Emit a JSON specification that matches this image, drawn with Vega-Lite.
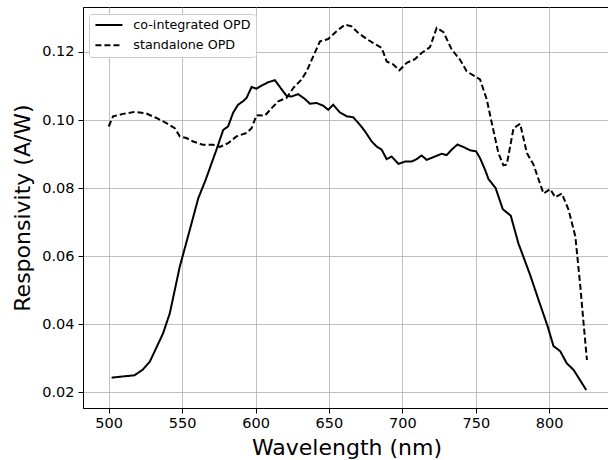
{
  "$schema": "https://vega.github.io/schema/vega-lite/v6.json",
  "width": 527,
  "height": 401,
  "autosize": {"type": "none"},
  "padding": {"left": 83, "top": 7, "right": 0, "bottom": 52},
  "background": "white",
  "config": {
    "font": "DejaVu Sans",
    "view": {"stroke": "#000000", "strokeWidth": 1},
    "axis": {
      "labelFont": "DejaVu Sans",
      "labelFontSize": 14.5,
      "labelColor": "#000000",
      "tickColor": "#000000",
      "tickSize": 5,
      "domainColor": "#000000",
      "gridColor": "#b0b0b0",
      "gridWidth": 0.8,
      "titleFont": "DejaVu Sans",
      "titleFontSize": 22,
      "titleFontWeight": "normal",
      "titleColor": "#000000"
    },
    "legend": {
      "labelFont": "DejaVu Sans",
      "labelFontSize": 12.7,
      "labelColor": "#000000"
    }
  },
  "data": {
    "values": [
      {"series": "co-integrated OPD", "wl": 502, "r": 0.0243},
      {"series": "co-integrated OPD", "wl": 508, "r": 0.0246},
      {"series": "co-integrated OPD", "wl": 517.5, "r": 0.0250},
      {"series": "co-integrated OPD", "wl": 523, "r": 0.0266},
      {"series": "co-integrated OPD", "wl": 528, "r": 0.0290},
      {"series": "co-integrated OPD", "wl": 537, "r": 0.0373},
      {"series": "co-integrated OPD", "wl": 541.6, "r": 0.0432},
      {"series": "co-integrated OPD", "wl": 548.4, "r": 0.0569},
      {"series": "co-integrated OPD", "wl": 555.2, "r": 0.0677},
      {"series": "co-integrated OPD", "wl": 561, "r": 0.0770},
      {"series": "co-integrated OPD", "wl": 566, "r": 0.0824},
      {"series": "co-integrated OPD", "wl": 573.4, "r": 0.0913},
      {"series": "co-integrated OPD", "wl": 578, "r": 0.0971},
      {"series": "co-integrated OPD", "wl": 581.3, "r": 0.0981},
      {"series": "co-integrated OPD", "wl": 584.7, "r": 0.1021},
      {"series": "co-integrated OPD", "wl": 588.1, "r": 0.1045},
      {"series": "co-integrated OPD", "wl": 591.5, "r": 0.1055},
      {"series": "co-integrated OPD", "wl": 593.9, "r": 0.1065},
      {"series": "co-integrated OPD", "wl": 597.3, "r": 0.1097},
      {"series": "co-integrated OPD", "wl": 600.7, "r": 0.1092},
      {"series": "co-integrated OPD", "wl": 604.1, "r": 0.1101},
      {"series": "co-integrated OPD", "wl": 608.6, "r": 0.1111},
      {"series": "co-integrated OPD", "wl": 613.2, "r": 0.1117},
      {"series": "co-integrated OPD", "wl": 616.6, "r": 0.1097},
      {"series": "co-integrated OPD", "wl": 621.1, "r": 0.1071},
      {"series": "co-integrated OPD", "wl": 624.5, "r": 0.1069},
      {"series": "co-integrated OPD", "wl": 629, "r": 0.1076},
      {"series": "co-integrated OPD", "wl": 633.6, "r": 0.1062},
      {"series": "co-integrated OPD", "wl": 637, "r": 0.1048},
      {"series": "co-integrated OPD", "wl": 641.6, "r": 0.1050},
      {"series": "co-integrated OPD", "wl": 646.1, "r": 0.1042},
      {"series": "co-integrated OPD", "wl": 649.5, "r": 0.1030},
      {"series": "co-integrated OPD", "wl": 652.9, "r": 0.1045},
      {"series": "co-integrated OPD", "wl": 657.5, "r": 0.1022},
      {"series": "co-integrated OPD", "wl": 662, "r": 0.1011},
      {"series": "co-integrated OPD", "wl": 666.6, "r": 0.1008},
      {"series": "co-integrated OPD", "wl": 671.1, "r": 0.0986},
      {"series": "co-integrated OPD", "wl": 674.5, "r": 0.0967},
      {"series": "co-integrated OPD", "wl": 679.1, "r": 0.0937},
      {"series": "co-integrated OPD", "wl": 682.5, "r": 0.0922},
      {"series": "co-integrated OPD", "wl": 685.9, "r": 0.0913},
      {"series": "co-integrated OPD", "wl": 689.3, "r": 0.0885},
      {"series": "co-integrated OPD", "wl": 692.7, "r": 0.0893},
      {"series": "co-integrated OPD", "wl": 697.3, "r": 0.0871},
      {"series": "co-integrated OPD", "wl": 701.8, "r": 0.0878},
      {"series": "co-integrated OPD", "wl": 706.3, "r": 0.0878},
      {"series": "co-integrated OPD", "wl": 709.7, "r": 0.0885},
      {"series": "co-integrated OPD", "wl": 713.1, "r": 0.0896},
      {"series": "co-integrated OPD", "wl": 716.5, "r": 0.0883},
      {"series": "co-integrated OPD", "wl": 721.1, "r": 0.0891},
      {"series": "co-integrated OPD", "wl": 726.8, "r": 0.0901},
      {"series": "co-integrated OPD", "wl": 730.2, "r": 0.0897},
      {"series": "co-integrated OPD", "wl": 733.6, "r": 0.0913},
      {"series": "co-integrated OPD", "wl": 737.5, "r": 0.0928},
      {"series": "co-integrated OPD", "wl": 741.5, "r": 0.0921},
      {"series": "co-integrated OPD", "wl": 746.1, "r": 0.0911},
      {"series": "co-integrated OPD", "wl": 750.2, "r": 0.0908},
      {"series": "co-integrated OPD", "wl": 752.9, "r": 0.0888},
      {"series": "co-integrated OPD", "wl": 756.3, "r": 0.0854},
      {"series": "co-integrated OPD", "wl": 758.6, "r": 0.0827},
      {"series": "co-integrated OPD", "wl": 763.5, "r": 0.0800},
      {"series": "co-integrated OPD", "wl": 768.4, "r": 0.0738},
      {"series": "co-integrated OPD", "wl": 773.8, "r": 0.0719},
      {"series": "co-integrated OPD", "wl": 779, "r": 0.0638},
      {"series": "co-integrated OPD", "wl": 787, "r": 0.0545},
      {"series": "co-integrated OPD", "wl": 792.7, "r": 0.0472},
      {"series": "co-integrated OPD", "wl": 799, "r": 0.0393},
      {"series": "co-integrated OPD", "wl": 802.9, "r": 0.0336},
      {"series": "co-integrated OPD", "wl": 807.5, "r": 0.0321},
      {"series": "co-integrated OPD", "wl": 812, "r": 0.0285},
      {"series": "co-integrated OPD", "wl": 816.6, "r": 0.0266},
      {"series": "co-integrated OPD", "wl": 825.2, "r": 0.0207},
      {"series": "standalone OPD", "wl": 500, "r": 0.0981},
      {"series": "standalone OPD", "wl": 503, "r": 0.1011},
      {"series": "standalone OPD", "wl": 509.8, "r": 0.1018},
      {"series": "standalone OPD", "wl": 517.7, "r": 0.1024},
      {"series": "standalone OPD", "wl": 525.7, "r": 0.1019},
      {"series": "standalone OPD", "wl": 532.5, "r": 0.1006},
      {"series": "standalone OPD", "wl": 539.3, "r": 0.0991},
      {"series": "standalone OPD", "wl": 545, "r": 0.0976},
      {"series": "standalone OPD", "wl": 548.4, "r": 0.0952},
      {"series": "standalone OPD", "wl": 552.9, "r": 0.0947},
      {"series": "standalone OPD", "wl": 557.5, "r": 0.0937},
      {"series": "standalone OPD", "wl": 564.3, "r": 0.0927},
      {"series": "standalone OPD", "wl": 571.1, "r": 0.0927},
      {"series": "standalone OPD", "wl": 575.7, "r": 0.0921},
      {"series": "standalone OPD", "wl": 581.3, "r": 0.0932},
      {"series": "standalone OPD", "wl": 587, "r": 0.0952},
      {"series": "standalone OPD", "wl": 593.9, "r": 0.0962},
      {"series": "standalone OPD", "wl": 597.3, "r": 0.0976},
      {"series": "standalone OPD", "wl": 600.7, "r": 0.1014},
      {"series": "standalone OPD", "wl": 606.4, "r": 0.1013},
      {"series": "standalone OPD", "wl": 611, "r": 0.1035},
      {"series": "standalone OPD", "wl": 615.5, "r": 0.1055},
      {"series": "standalone OPD", "wl": 621.1, "r": 0.1065},
      {"series": "standalone OPD", "wl": 625.7, "r": 0.1094},
      {"series": "standalone OPD", "wl": 631.3, "r": 0.1119},
      {"series": "standalone OPD", "wl": 634.8, "r": 0.1143},
      {"series": "standalone OPD", "wl": 639.3, "r": 0.1187},
      {"series": "standalone OPD", "wl": 643.9, "r": 0.1231},
      {"series": "standalone OPD", "wl": 649.5, "r": 0.1238},
      {"series": "standalone OPD", "wl": 655.2, "r": 0.1261},
      {"series": "standalone OPD", "wl": 660.9, "r": 0.1280},
      {"series": "standalone OPD", "wl": 665.4, "r": 0.1275},
      {"series": "standalone OPD", "wl": 670, "r": 0.1256},
      {"series": "standalone OPD", "wl": 675.7, "r": 0.1238},
      {"series": "standalone OPD", "wl": 680.2, "r": 0.1226},
      {"series": "standalone OPD", "wl": 685.9, "r": 0.1212},
      {"series": "standalone OPD", "wl": 689.3, "r": 0.1172},
      {"series": "standalone OPD", "wl": 693.9, "r": 0.1163},
      {"series": "standalone OPD", "wl": 698, "r": 0.1146},
      {"series": "standalone OPD", "wl": 703, "r": 0.1168},
      {"series": "standalone OPD", "wl": 708.6, "r": 0.1179},
      {"series": "standalone OPD", "wl": 713.1, "r": 0.1197},
      {"series": "standalone OPD", "wl": 718.8, "r": 0.1214},
      {"series": "standalone OPD", "wl": 723.4, "r": 0.1271},
      {"series": "standalone OPD", "wl": 728, "r": 0.1258},
      {"series": "standalone OPD", "wl": 733.6, "r": 0.1207},
      {"series": "standalone OPD", "wl": 739.3, "r": 0.1177},
      {"series": "standalone OPD", "wl": 743.8, "r": 0.1143},
      {"series": "standalone OPD", "wl": 749.5, "r": 0.1128},
      {"series": "standalone OPD", "wl": 752.9, "r": 0.1119},
      {"series": "standalone OPD", "wl": 757.5, "r": 0.1060},
      {"series": "standalone OPD", "wl": 760.9, "r": 0.0991},
      {"series": "standalone OPD", "wl": 765.4, "r": 0.0903},
      {"series": "standalone OPD", "wl": 768.8, "r": 0.0867},
      {"series": "standalone OPD", "wl": 771.1, "r": 0.0869},
      {"series": "standalone OPD", "wl": 775.7, "r": 0.0976},
      {"series": "standalone OPD", "wl": 780.2, "r": 0.0989},
      {"series": "standalone OPD", "wl": 784.8, "r": 0.0903},
      {"series": "standalone OPD", "wl": 789.3, "r": 0.0869},
      {"series": "standalone OPD", "wl": 796.1, "r": 0.0784},
      {"series": "standalone OPD", "wl": 800.7, "r": 0.0797},
      {"series": "standalone OPD", "wl": 804.1, "r": 0.0773},
      {"series": "standalone OPD", "wl": 808.6, "r": 0.0784},
      {"series": "standalone OPD", "wl": 813.2, "r": 0.0736},
      {"series": "standalone OPD", "wl": 817.8, "r": 0.0658},
      {"series": "standalone OPD", "wl": 821.2, "r": 0.0511},
      {"series": "standalone OPD", "wl": 823.4, "r": 0.0403},
      {"series": "standalone OPD", "wl": 825.7, "r": 0.0295}
    ]
  },
  "mark": {"type": "line", "color": "#000000", "strokeWidth": 2, "clip": true},
  "encoding": {
    "x": {
      "field": "wl",
      "type": "quantitative",
      "title": "Wavelength (nm)",
      "scale": {"domain": [482.5, 841.4], "nice": false, "zero": false},
      "axis": {"values": [500, 550, 600, 650, 700, 750, 800], "format": "d", "labelPadding": 3, "titlePadding": 8}
    },
    "y": {
      "field": "r",
      "type": "quantitative",
      "title": "Responsivity (A/W)",
      "scale": {"domain": [0.0154, 0.1332], "nice": false, "zero": false},
      "axis": {"values": [0.02, 0.04, 0.06, 0.08, 0.10, 0.12], "format": ".2f", "labelPadding": 4, "titlePadding": 7}
    },
    "strokeDash": {
      "field": "series",
      "type": "nominal",
      "scale": {"domain": ["co-integrated OPD", "standalone OPD"], "range": [[1, 0], [6, 3]]},
      "legend": {
        "title": null,
        "orient": "none",
        "legendX": 6,
        "legendY": 7,
        "symbolType": "M-1,0H5",
        "symbolSize": 81,
        "symbolStrokeWidth": 2,
        "symbolStrokeColor": "#000000",
        "labelOffset": 27,
        "rowPadding": 6.3,
        "padding": 4.6,
        "strokeColor": "#cccccc",
        "fillColor": "white",
        "cornerRadius": 3
      }
    }
  }
}
